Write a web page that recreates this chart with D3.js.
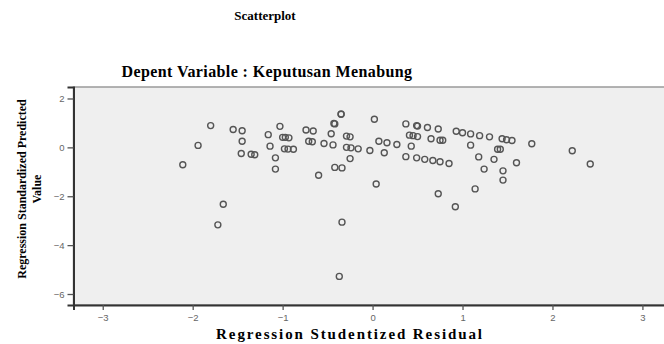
<!DOCTYPE html>
<html>
<head>
<meta charset="utf-8">
<script src="https://cdn.jsdelivr.net/npm/d3@7"></script>
<style>
  body { margin: 0; background: #fff; }
  svg { display: block; }
</style>
</head>
<body>
<svg id="chart" width="664" height="344"></svg>
<script>
// Regression studentized residual (x) vs standardized predicted value (y).
const residual = [
  -1.80, -1.94, -2.11, -1.55, -1.45, -1.45, -1.46, -1.35, -1.31, -1.16,
  -1.14, -1.08, -1.08, -1.03, -1.00, -0.97, -0.93, -0.98, -0.94, -0.88,
  -0.74, -0.66, -0.71, -0.67, -0.60, -0.54, -0.44, -0.46, -0.43, -0.42,
  -0.35, -0.35, -0.29, -0.25, -0.29, -0.24, -0.16, -0.25, -0.42, -0.34,
  -0.03, 0.02, 0.07, 0.16, 0.27, 0.13, 0.04, 0.37, 0.49, 0.50,
  0.61, 0.73, 0.41, 0.45, 0.50, 0.65, 0.75, 0.78, 0.43, 0.37,
  0.49, 0.58, 0.67, 0.75, 0.85, 0.73, 0.92, 0.93, 1.00, 1.09,
  1.19, 1.30, 1.09, 1.44, 1.49, 1.55, 1.77, 1.39, 1.42, 1.18,
  1.35, 1.60, 1.24, 1.45, 1.45, 1.14, 2.22, 2.42, -1.66, -1.72,
  -0.34, -0.37
];
const predicted = [
  0.89, 0.08, -0.71, 0.73, 0.68, 0.25, -0.25, -0.28, -0.30, 0.52,
  0.05, -0.43, -0.89, 0.86, 0.41, 0.41, 0.39, -0.06, -0.07, -0.08,
  0.71, 0.67, 0.25, 0.23, -1.14, 0.16, 0.10, 0.56, 0.98, 0.96,
  1.37, 1.35, 0.46, 0.43, 0.00, -0.02, -0.06, -0.46, -0.82, -0.84,
  -0.13, 1.15, 0.25, 0.19, 0.12, -0.22, -1.50, 0.96, 0.89, 0.87,
  0.81, 0.75, 0.50, 0.48, 0.44, 0.35, 0.29, 0.29, 0.05, -0.38,
  -0.43, -0.49, -0.54, -0.59, -0.66, -1.90, -2.43, 0.66, 0.60, 0.55,
  0.48, 0.43, 0.09, 0.35, 0.31, 0.28, 0.15, -0.08, -0.08, -0.39,
  -0.49, -0.63, -0.89, -0.96, -1.34, -1.70, -0.14, -0.68, -2.33, -3.17,
  -3.06, -5.28
];
const xTicks = [-3, -2, -1, 0, 1, 2, 3];
const yTicks = [2, 0, -2, -4, -6];

const points = residual.map((r, i) => ({ r, p: predicted[i] }));

const plotLeft = 73.5, plotTop = 87, plotBottom = 305, plotRight = 673;
const serif = '"Liberation Serif", "Times New Roman", serif';

const svg = d3.select('#chart');

const x = d3.scaleLinear().domain([-3.325, 3.34]).range([plotLeft, plotRight]);
const y = d3.scaleLinear().domain([-6.45, 2.47]).range([plotBottom, plotTop]);

// Plot background.
svg.append('rect')
  .attr('x', plotLeft).attr('y', plotTop)
  .attr('width', plotRight - plotLeft).attr('height', plotBottom - plotTop)
  .attr('fill', '#efefef')
  .attr('stroke', '#9a9a9a')
  .attr('stroke-width', 1.5);

// Axes.
const xAxis = svg.append('g')
  .attr('transform', `translate(0,${plotBottom})`)
  .call(d3.axisBottom(x).tickValues(xTicks).tickSize(5).tickPadding(4).tickFormat(d3.format('d')));
const yAxis = svg.append('g')
  .attr('transform', `translate(${plotLeft},0)`)
  .call(d3.axisLeft(y).tickValues(yTicks).tickSize(6).tickPadding(3).tickFormat(d3.format('d')));

[xAxis, yAxis].forEach((g) => {
  g.select('.domain').attr('stroke', '#333').attr('stroke-width', 2);
  g.selectAll('.tick line').attr('stroke', '#555').attr('stroke-width', 1.3);
  g.selectAll('.tick text')
    .attr('fill', '#666')
    .style('font-family', 'Arial, "Liberation Sans", sans-serif')
    .style('font-size', '9.5px');
});

// Points.
svg.append('g')
  .attr('id', 'points')
  .selectAll('circle')
  .data(points)
  .join('circle')
  .attr('cx', (d) => x(d.r))
  .attr('cy', (d) => y(d.p))
  .attr('r', 3)
  .attr('fill', 'none')
  .attr('stroke', '#555')
  .attr('stroke-width', 1.4);

// Titles.
svg.append('text')
  .attr('x', 265).attr('y', 20)
  .attr('text-anchor', 'middle')
  .style('font-family', serif).style('font-weight', 'bold').style('font-size', '13px')
  .text('Scatterplot');

svg.append('text')
  .attr('x', 267).attr('y', 77)
  .attr('text-anchor', 'middle')
  .style('font-family', serif).style('font-weight', 'bold').style('font-size', '16px')
  .style('letter-spacing', '0.4px')
  .text('Depent Variable : Keputusan Menabung');

svg.append('text')
  .attr('x', 350).attr('y', 339)
  .attr('text-anchor', 'middle')
  .style('font-family', serif).style('font-weight', 'bold').style('font-size', '15px')
  .style('letter-spacing', '1.9px')
  .text('Regression Studentized Residual');

const yTitle = svg.append('text')
  .attr('transform', 'translate(26,189) rotate(-90)')
  .attr('text-anchor', 'middle')
  .style('font-family', serif).style('font-weight', 'bold').style('font-size', '12px');
yTitle.append('tspan').attr('x', 0).attr('y', 0).text('Regression Standardized Predicted');
yTitle.append('tspan').attr('x', 0).attr('y', 15).text('Value');
</script>
</body>
</html>
